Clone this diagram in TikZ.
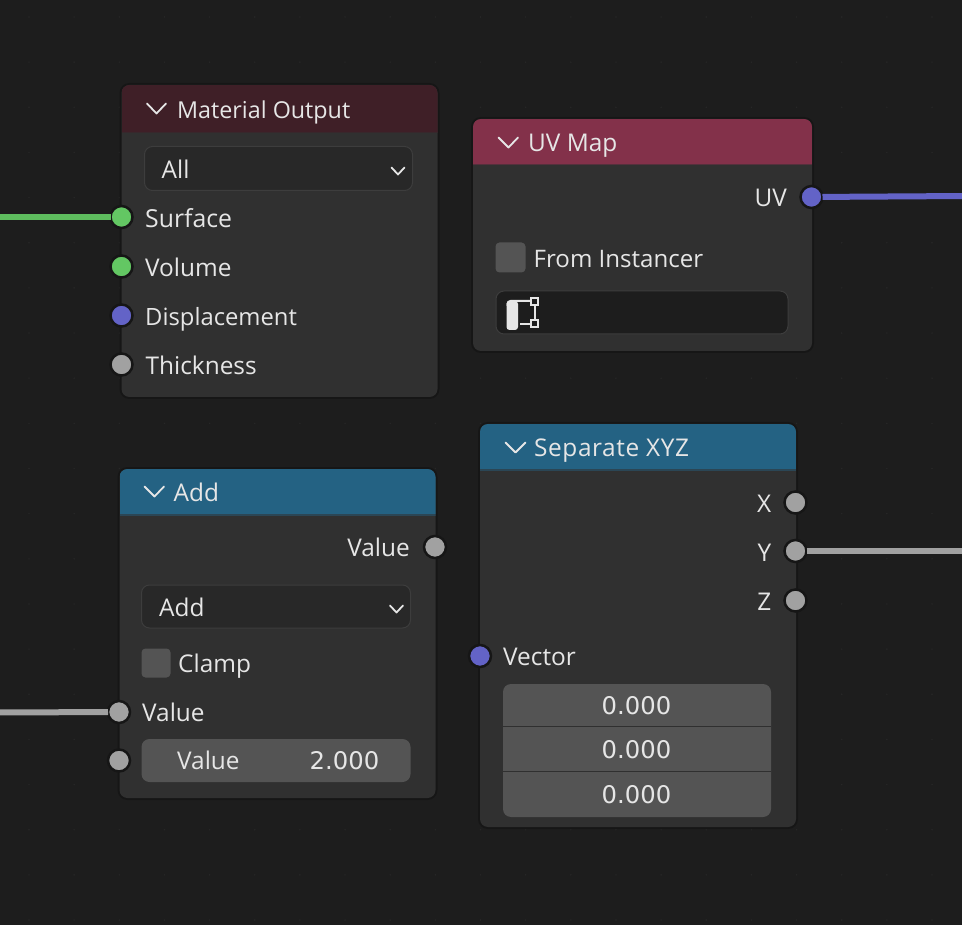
\documentclass[tikz,border=0pt]{standalone}
\usepackage{fontspec}
\setmainfont{Open Sans}
\newfontfamily\digitfont{DejaVu Sans}
\definecolor{bgc}{HTML}{1D1D1D}
\definecolor{gridc}{HTML}{272727}
\definecolor{shadowc}{HTML}{161616}
\definecolor{bodyc}{HTML}{303030}
\definecolor{fieldc}{HTML}{282828}
\definecolor{fieldline}{HTML}{3D3D3D}
\definecolor{darkc}{HTML}{1D1D1D}
\definecolor{greyc}{HTML}{545454}
\definecolor{txt}{HTML}{E6E6E6}
\definecolor{moc}{HTML}{3F1F27}
\definecolor{uvc}{HTML}{83314A}
\definecolor{convc}{HTML}{246283}
\definecolor{sgreen}{HTML}{63C763}
\definecolor{sblue}{HTML}{6363C7}
\definecolor{sgrey}{HTML}{A1A1A1}
\tikzset{
  panel/.style={rectangle,preaction={draw=shadowc,line width=4pt},fill=bodyc,rounded corners=8pt,inner sep=0pt,outer sep=0pt},
  dropbox/.style={rectangle,draw=fieldline,line width=1pt,fill=fieldc,rounded corners=8pt,inner sep=0pt},
  namebox/.style={rectangle,draw=fieldline,line width=1pt,fill=darkc,rounded corners=8pt,inner sep=0pt},
  checkbox/.style={rectangle,fill=greyc,rounded corners=4pt,inner sep=0pt},
  valuebox/.style={rectangle,fill=greyc,rounded corners=8pt,inner sep=0pt},
  lbl/.style={anchor=base west,inner sep=0pt,text=txt,font=\fontsize{24.4}{28}\selectfont},
  lblr/.style={lbl,anchor=base east},
  numr/.style={lblr,font=\fontsize{24.3}{28}\selectfont\digitfont},
  numc/.style={lbl,anchor=base,font=\fontsize{24.3}{28}\selectfont\digitfont},
  sock/.style={circle,draw=shadowc,line width=2.5pt,minimum size=22pt,inner sep=0pt,outer sep=0pt},
  wire/.style={line width=6pt},
  chev/.style={draw=txt,line width=1.8pt,line cap=round,line join=round},
  sepline/.style={draw=bodyc,line width=1pt},
}
\newcommand{\headfill}[5]{\begin{scope}\clip[rounded corners=8pt] (#1,#2) rectangle (#3,#4+20);\fill[#5] (#1,#2) rectangle (#3,#4);\fill[#5!45!bodyc] (#1,#4) rectangle (#3,#4+1.5);\end{scope}}
\begin{document}
\begin{tikzpicture}[x=1pt,y=-1pt]
\useasboundingbox (0,0) rectangle (962,925);
\fill[bgc] (0,0) rectangle (962,925);
\foreach \i in {0,...,20}{\foreach \j in {0,...,20}{
  \fill[gridc] (29+45.15*\i,17+45.15*\j) circle (.8);
}}
% Material Output
\node[panel,minimum width=316pt,minimum height=312pt] (mo) at (279.5,241) {};
\headfill{121.5}{85}{437.5}{132}{moc}
\node[lbl,font=\fontsize{23.3}{28}\selectfont] (motitle) at (177,118.5) {Material Output};
\draw[chev] (147,103.5) -- (156.5,113.5) -- (166,103.5);
\node[dropbox,minimum width=268pt,minimum height=44pt] (modrop) at (278.5,168.5) {};
\node[lbl] (moall) at (161.5,179) {All};
\draw[chev] (391.5,167.5) -- (398,174.5) -- (404.5,167.5);
\node[lbl,font=\fontsize{24.8}{28}\selectfont] (mosurf) at (145,228) {Surface};
\node[lbl] (movol) at (145,277) {Volume};
\node[lbl,font=\fontsize{23.8}{28}\selectfont] (modisp) at (145,326) {Displacement};
\node[lbl] (mothick) at (145.5,375) {Thickness};
\node[sock,fill=sgreen] (s1) at (121.5,217) {};
\node[sock,fill=sgreen] (s2) at (121.5,266.5) {};
\node[sock,fill=sblue] (s3) at (121.5,315.5) {};
\node[sock,fill=sgrey] (s4) at (121.5,364.5) {};
% UV Map
\node[panel,minimum width=339pt,minimum height=232pt] (uv) at (642.5,235) {};
\headfill{473}{119}{812}{164}{uvc}
\node[lbl] (uvtitle) at (528,151.5) {UV Map};
\draw[chev] (498.5,137.5) -- (508.5,147.5) -- (518,137.5);
\node[lblr] (uvout) at (787,207) {UV};
\node[checkbox,minimum size=30pt] (uvcheck) at (510.5,257.5) {};
\node[lbl,font=\fontsize{24.1}{28}\selectfont] (uvinst) at (533.5,268) {From Instancer};
\node[namebox,minimum width=292pt,minimum height=43pt] (uvfield) at (642,312.5) {};
\fill[txt,rounded corners=3pt] (506.5,301) -- (518,301) -- (518,330) -- (506.5,330) -- cycle;
\draw[txt,line width=2pt,rounded corners=3pt] (507.5,306) -- (507.5,301) -- (531,301);
\draw[txt,line width=2pt] (520,324) -- (531,324) (534.5,306) -- (534.5,320);
\draw[txt,line width=2pt] (531,298.5) rectangle (538,305.5) (531,320.5) rectangle (538,327.5);
\node[sock,fill=sblue] (s5) at (811.5,197) {};
% Add
\node[panel,minimum width=316pt,minimum height=329pt] (add) at (277.5,633.5) {};
\headfill{119.5}{469}{435.5}{514}{convc}
\node[lbl] (addtitle) at (173.5,501) {Add};
\draw[chev] (144.5,486.5) -- (154.5,496.5) -- (164,486.5);
\node[lblr] (addout) at (410,556) {Value};
\node[dropbox,minimum width=269pt,minimum height=43pt] (adddrop) at (276,606.5) {};
\node[lbl] (addop) at (159,616) {Add};
\draw[chev] (390,605.5) -- (396.5,612.5) -- (403,605.5);
\node[checkbox,minimum size=29pt] (addcheck) at (156,663) {};
\node[lbl] (addclamp) at (178,672) {Clamp};
\node[lbl] (addin) at (142,721) {Value};
\node[valuebox,minimum width=269pt,minimum height=43pt] (addval) at (276,760.5) {};
\node[lbl] (addvl) at (177,769) {Value};
\node[numr] (addvn) at (379.5,769) {2.000};
\node[sock,fill=sgrey] (s6) at (435,547) {};
\node[sock,fill=sgrey] (s7) at (119,712) {};
\node[sock,fill=sgrey] (s8) at (119,760.5) {};
% Separate XYZ
\node[panel,minimum width=316pt,minimum height=403pt] (sep) at (638,625.5) {};
\headfill{480}{424}{796}{469}{convc}
\node[lbl] (septitle) at (534,456.5) {\addfontfeature{LetterSpace=2.4}Separate XYZ};
\draw[chev] (505.5,442.5) -- (515.5,452.5) -- (525.5,442.5);
\node[lblr] (sepx) at (771.5,512) {X};
\node[lblr] (sepy) at (771.5,561) {Y};
\node[lblr] (sepz) at (771.5,610) {Z};
\node[lbl] (sepv) at (503,665) {Vector};
\node[valuebox,minimum width=268pt,minimum height=133pt] (sepval) at (637,750.5) {};
\draw[sepline] (503,726.5) -- (771,726.5) (503,771) -- (771,771);
\node[numc] (sep1) at (636.5,714) {0.000};
\node[numc] (sep2) at (636.5,758.5) {0.000};
\node[numc] (sep3) at (636.5,803) {0.000};
\node[sock,fill=sgrey] (s9) at (795.5,502.5) {};
\node[sock,fill=sgrey] (s10) at (795.5,551) {};
\node[sock,fill=sgrey] (s11) at (795.5,600.5) {};
\node[sock,fill=sblue] (s12) at (480,656) {};
% wires
\coordinate (w1) at (-3,217);
\coordinate (w2) at (965,196);
\coordinate (w3) at (965,551);
\coordinate (w4) at (-3,712.5);
\draw[wire,sgreen!95!black] (w1) -- (s1);
\draw[wire,sblue] (s5) -- (w2);
\draw[wire,sgrey] (s10) -- (w3);
\draw[wire,sgrey] (w4) -- (s7);
\end{tikzpicture}
\end{document}
